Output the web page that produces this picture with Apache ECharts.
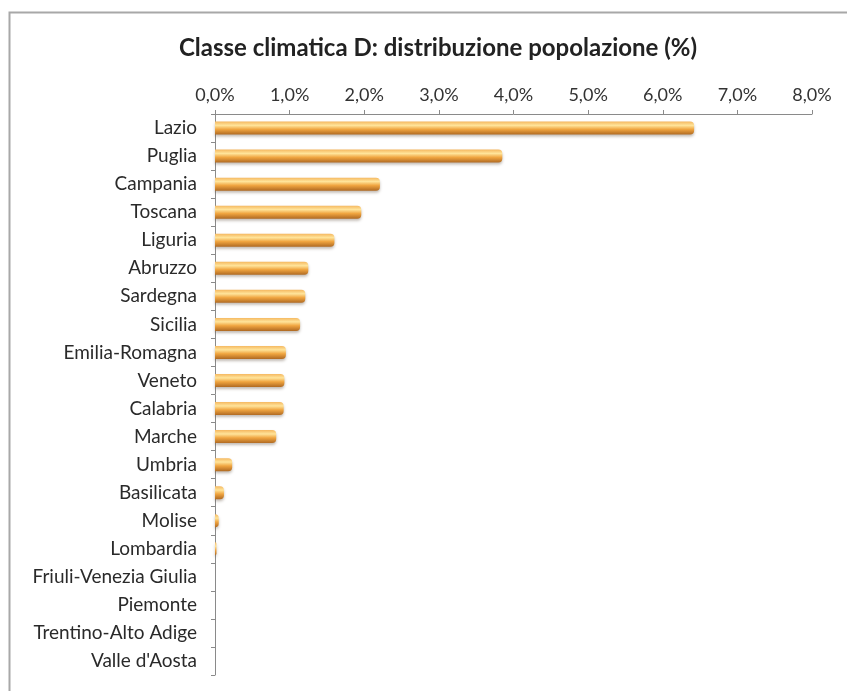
<!DOCTYPE html>
<html><head><meta charset="utf-8">
<script src="https://cdn.jsdelivr.net/npm/echarts@6/dist/echarts.min.js"></script>
<style>html,body{margin:0;padding:0;background:#fff}#c{width:847px;height:691px}</style>
</head><body><div id="c"></div>
<script>
const regions = ["Lazio","Puglia","Campania","Toscana","Liguria","Abruzzo","Sardegna","Sicilia","Emilia-Romagna","Veneto","Calabria","Marche","Umbria","Basilicata","Molise","Lombardia","Friuli-Venezia Giulia","Piemonte","Trentino-Alto Adige","Valle d'Aosta"];
const shares = [6.42,3.85,2.21,1.96,1.60,1.25,1.21,1.14,0.95,0.93,0.92,0.82,0.23,0.12,0.05,0.02,0,0,0,0];
const chartTitle = "Classe climatica D: distribuzione popolazione (%)";
const axisMax = 8, axisStep = 1;

const chart = echarts.init(document.getElementById('c'));
const font = 'Lato, "Open Sans", sans-serif';
chart.setOption({
  animation:false,
  backgroundColor:'#fff',
  graphic:[{type:'rect',shape:{x:9.5,y:12.5,width:850,height:700},style:{fill:'none',stroke:'#a8a8a8',lineWidth:2}}],
  title:{text:chartTitle,left:433,top:31,textAlign:'center',textStyle:{fontFamily:font,fontSize:24,fontWeight:'bold',color:'#222'}},
  grid:{left:215,top:114,right:35,bottom:16,containLabel:false},
  xAxis:{type:'value',position:'top',min:0,max:axisMax,interval:axisStep,
    axisLine:{show:true,lineStyle:{color:'#8a8a8a'}},
    axisTick:{show:true,length:4,lineStyle:{color:'#8a8a8a'}},
    splitLine:{show:false},
    axisLabel:{margin:10,fontFamily:font,fontSize:18,color:'#333',formatter:v=>v.toFixed(1).replace('.',',')+'%'}},
  yAxis:{type:'category',data:regions,inverse:true,
    axisLine:{show:true,lineStyle:{color:'#8a8a8a'}},
    axisTick:{show:true,length:4,lineStyle:{color:'#8a8a8a'}},
    axisLabel:{margin:18,fontFamily:font,fontSize:19,color:'#2a2a2a'}},
  series:[{type:'bar',data:shares,barWidth:13,
    itemStyle:{
      color:new echarts.graphic.LinearGradient(0,0,0,1,[
        {offset:0,color:'#f5b860'},{offset:0.3,color:'#ffe49a'},{offset:0.6,color:'#f0a540'},{offset:1,color:'#b06a22'}]),
      borderRadius:[0,4,4,0],
      shadowColor:'rgba(80,60,40,0.35)',shadowBlur:3,shadowOffsetY:2}}]
});
</script></body></html>
